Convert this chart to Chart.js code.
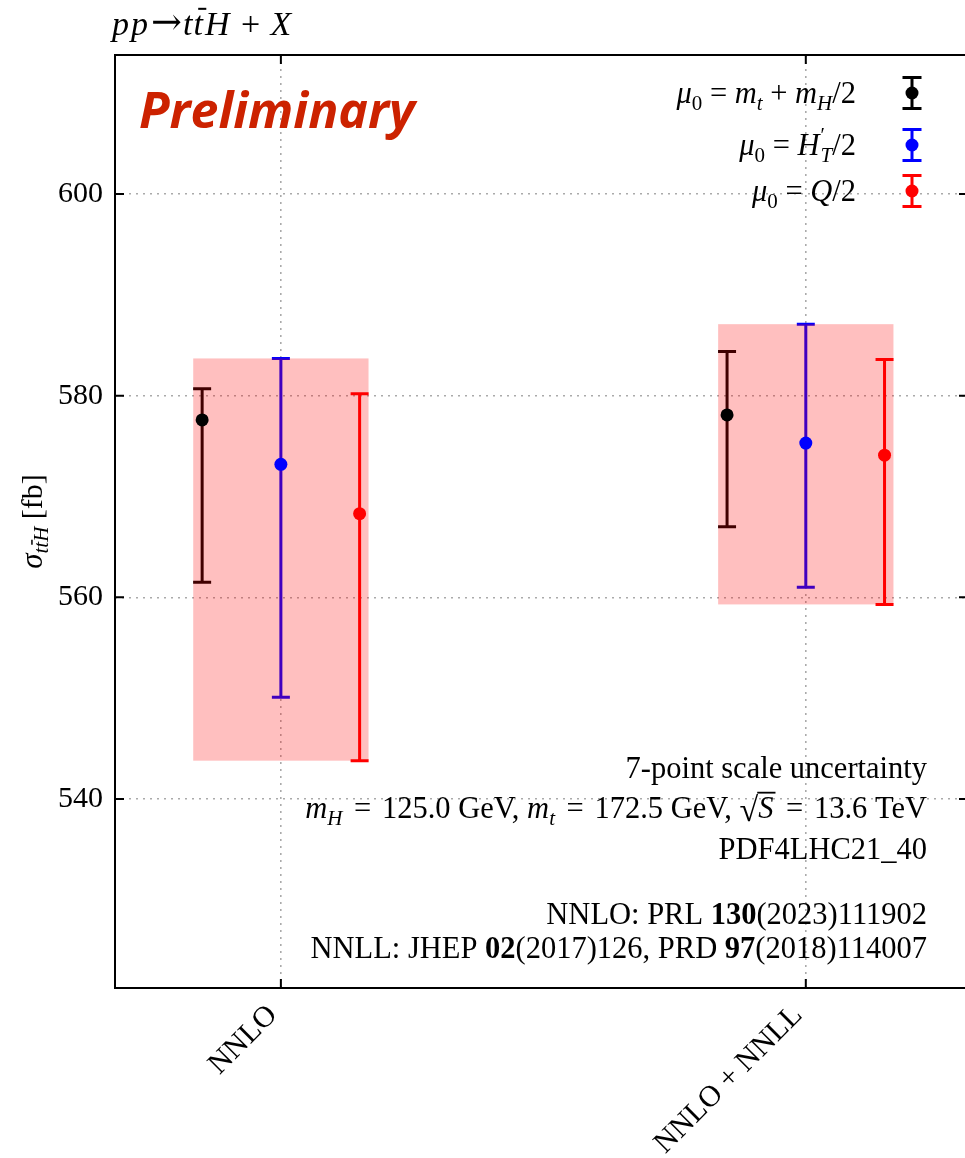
<!DOCTYPE html>
<html>
<head>
<meta charset="utf-8">
<script src="https://cdn.jsdelivr.net/npm/chart.js@4/dist/chart.umd.min.js"></script>
<style>
html, body { margin: 0; background: #fff; overflow: hidden; }
canvas { display: block; }
</style>
</head>
<body>
<canvas id="xsecChart" width="968" height="1158"></canvas>
<script>
// values (fb)
const categories = ['NNLO', 'NNLO + NNLL'];

const centralMtMh = [577.6, 578.1];
const lowMtMh = [561.5, 567.0];
const highMtMh = [580.7, 584.4];

const centralHt = [573.2, 575.3];
const lowHt = [550.1, 561.0];
const highHt = [583.7, 587.1];

const centralQ = [568.3, 574.1];
const lowQ = [543.8, 559.3];
const highQ = [580.2, 583.6];

const yTicks = [540, 560, 580, 600];

const SERIF = '"Liberation Serif", "Times New Roman", serif';
const FS = 30.5;
function font(style, size, fam) {
    return style + ' ' + size + 'px ' + (fam || SERIF);
}

// draws a line of mixed text pieces (italic / sub / bold)
function drawRuns(ctx, runs, x, y, align) {
    let total = 0;
    runs.forEach(r => {
        ctx.font = font(r.s || 'normal', r.z || FS, r.f);
        r.w = ctx.measureText(r.t).width;
        r.adv = r.noAdv ? 0 : r.w + (r.gap || 0);
        total += r.adv + (r.pre || 0);
    });
    let cx = x;
    if (align === 'right') cx = x - total;
    if (align === 'center') cx = x - total / 2;
    runs.forEach(r => {
        const z = r.z || FS;
        cx += r.pre || 0;
        ctx.font = font(r.s || 'normal', z, r.f);
        ctx.fillText(r.t, cx, y + (r.dy || 0));
        if (r.bar) {
            ctx.fillRect(cx + z * 0.14, y + (r.dy || 0) - z * 0.8, r.w - z * 0.04, Math.max(1.5, z * 0.06));
        }
        if (r.over) {
            ctx.fillRect(cx - 1, y + (r.dy || 0) - z * 0.86, r.w + 3, 1.8);
        }
        cx += r.adv;
    });
}

function makeSet(label, color, offset, central, low, high) {
    return {
        label: label,
        data: central.map((v, i) => ({ x: i + offset, y: v })),
        errLow: low,
        errHigh: high,
        backgroundColor: color,
        borderColor: color,
        pointRadius: 6.5,
        pointHoverRadius: 6.5,
        pointBorderWidth: 0,
        showLine: false
    };
}

const errorBars = {
    id: 'errorBars',
    beforeDatasetsDraw(chart) {
        const { ctx, scales: { x, y } } = chart;
        ctx.save();
        ctx.lineWidth = 3;
        chart.data.datasets.forEach(ds => {
            ctx.strokeStyle = ds.borderColor;
            ds.data.forEach((p, i) => {
                const px = x.getPixelForValue(p.x);
                const yl = y.getPixelForValue(ds.errLow[i]);
                const yh = y.getPixelForValue(ds.errHigh[i]);
                ctx.beginPath();
                ctx.moveTo(px, yl); ctx.lineTo(px, yh);
                ctx.moveTo(px - 9, yl); ctx.lineTo(px + 9, yl);
                ctx.moveTo(px - 9, yh); ctx.lineTo(px + 9, yh);
                ctx.stroke();
            });
        });
        // envelope of the three scale choices
        ctx.fillStyle = 'rgba(255, 0, 0, 0.25)';
        categories.forEach((c, i) => {
            const lo = Math.min(...chart.data.datasets.map(ds => ds.errLow[i]));
            const hi = Math.max(...chart.data.datasets.map(ds => ds.errHigh[i]));
            const x0 = x.getPixelForValue(i - 0.167);
            const x1 = x.getPixelForValue(i + 0.167);
            const y0 = y.getPixelForValue(hi);
            const y1 = y.getPixelForValue(lo);
            ctx.fillRect(x0, y0, x1 - x0, y1 - y0);
        });
        ctx.restore();
    }
};

const frameAndText = {
    id: 'frameAndText',
    afterDraw(chart) {
        const { ctx, chartArea: a, scales: { x, y } } = chart;
        ctx.save();
        // frame + inward ticks
        ctx.strokeStyle = '#000';
        ctx.lineWidth = 2;
        ctx.strokeRect(a.left, a.top, a.right - a.left, a.bottom - a.top);
        ctx.beginPath();
        yTicks.forEach(v => {
            const py = y.getPixelForValue(v);
            ctx.moveTo(a.left, py); ctx.lineTo(a.left + 9, py);
            ctx.moveTo(a.right, py); ctx.lineTo(a.right - 9, py);
        });
        categories.forEach((c, i) => {
            const px = x.getPixelForValue(i);
            ctx.moveTo(px, a.top); ctx.lineTo(px, a.top + 9);
            ctx.moveTo(px, a.bottom); ctx.lineTo(px, a.bottom - 9);
        });
        ctx.stroke();

        ctx.fillStyle = '#000';
        ctx.textBaseline = 'alphabetic';
        ctx.textAlign = 'left';

        // title
        drawRuns(ctx, [
            { t: 'p', s: 'italic', z: 34, gap: 2 },
            { t: 'p', s: 'italic', z: 34, gap: 3 },
            { t: '\u2192', z: 37, f: '"DejaVu Serif", serif', dy: -1, gap: 1 },
            { t: 't', s: 'italic', z: 34, gap: 1 },
            { t: 't', s: 'italic', z: 34, bar: true, gap: 2 },
            { t: 'H', s: 'italic', z: 34, gap: 3 },
            { t: ' + ', z: 34, gap: 2 },
            { t: 'X', s: 'italic', z: 34 }
        ], 112, 35, 'left');

        // Preliminary
        ctx.fillStyle = '#cc2200';
        ctx.font = 'italic bold 50px "Open Sans", "DejaVu Sans", sans-serif';
        ctx.fillText('Preliminary', 139, 128);
        ctx.fillStyle = '#000';

        // y axis label
        ctx.save();
        ctx.translate(42, (a.top + a.bottom) / 2);
        ctx.rotate(-Math.PI / 2);
        drawRuns(ctx, [
            { t: '\u03c3', s: 'italic', z: 31 },
            { t: 't', s: 'italic', z: 21, dy: 6 },
            { t: 't', s: 'italic', z: 21, dy: 6, bar: true },
            { t: 'H', s: 'italic', z: 21, dy: 6 },
            { t: ' [fb]', z: 30 }
        ], 0, 0, 'center');
        ctx.restore();

        // legend, one row per dataset
        const legendText = [
            [{ t: '\u03bc', s: 'italic' }, { t: '0', z: 21, dy: 7 }, { t: ' = ' }, { t: 'm', s: 'italic' },
             { t: 't', s: 'italic', z: 21, dy: 7 }, { t: ' + ' }, { t: 'm', s: 'italic' },
             { t: 'H', s: 'italic', z: 21, dy: 7 }, { t: '/2' }],
            [{ t: '\u03bc', s: 'italic' }, { t: '0', z: 21, dy: 7 }, { t: ' = ' }, { t: 'H', s: 'italic', gap: -2 },
             { t: '\u2032', z: 20, dy: -13, noAdv: true, pre: 3 }, { t: 'T', s: 'italic', z: 21, dy: 7 }, { t: '/2' }],
            [{ t: '\u03bc', s: 'italic' }, { t: '0', z: 21, dy: 7 }, { t: ' = ' }, { t: 'Q', s: 'italic' }, { t: '/2' }]
        ];
        const rowY = [93, 145, 191];
        chart.data.datasets.forEach((ds, k) => {
            drawRuns(ctx, legendText[k], 856, rowY[k] + 10, 'right');
            ctx.strokeStyle = ds.borderColor;
            ctx.fillStyle = ds.borderColor;
            ctx.lineWidth = 3;
            const mx = 912, my = rowY[k];
            ctx.beginPath();
            ctx.moveTo(mx, my - 15.5); ctx.lineTo(mx, my + 15.5);
            ctx.moveTo(mx - 9.5, my - 15.5); ctx.lineTo(mx + 9.5, my - 15.5);
            ctx.moveTo(mx - 9.5, my + 15.5); ctx.lineTo(mx + 9.5, my + 15.5);
            ctx.stroke();
            ctx.beginPath();
            ctx.arc(mx, my, 6.5, 0, Math.PI * 2);
            ctx.fill();
            ctx.fillStyle = '#000';
        });

        // annotations
        const rx = 927;
        drawRuns(ctx, [{ t: '7-point scale uncertainty' }], rx, 778, 'right');
        drawRuns(ctx, [
            { t: 'm', s: 'italic' }, { t: 'H', s: 'italic', z: 21, dy: 7, gap: 4 }, { t: ' = ', gap: 3 }, { t: '125.0 GeV, ' },
            { t: 'm', s: 'italic' }, { t: 't', s: 'italic', z: 21, dy: 7, gap: 4 }, { t: ' = ', gap: 3 }, { t: '172.5 GeV, ' },
            { t: '\u221a', z: 34, dy: 3 }, { t: 'S', s: 'italic', over: true, gap: 5 }, { t: ' = ', gap: 3 }, { t: '13.6 TeV' }
        ], rx, 818, 'right');
        drawRuns(ctx, [{ t: 'PDF4LHC21_40' }], rx, 859, 'right');
        drawRuns(ctx, [
            { t: 'NNLO: PRL ' }, { t: '130', s: 'bold' }, { t: '(2023)111902' }
        ], rx, 924, 'right');
        drawRuns(ctx, [
            { t: 'NNLL: JHEP ' }, { t: '02', s: 'bold' }, { t: '(2017)126, PRD ' },
            { t: '97', s: 'bold' }, { t: '(2018)114007' }
        ], rx, 958, 'right');
        ctx.restore();
    }
};

const ctxEl = document.getElementById('xsecChart');

new Chart(ctxEl, {
    type: 'scatter',
    data: {
        datasets: [
            makeSet('mt+mH/2', '#000000', -0.15, centralMtMh, lowMtMh, highMtMh),
            makeSet("H'T/2", '#0000ff', 0, centralHt, lowHt, highHt),
            makeSet('Q/2', '#ff0000', 0.15, centralQ, lowQ, highQ)
        ]
    },
    options: {
        responsive: false,
        animation: false,
        devicePixelRatio: 1,
        layout: {
            autoPadding: false,
            padding: { left: 0, top: 55, right: 0, bottom: 0 }
        },
        plugins: {
            legend: { display: false },
            tooltip: { enabled: false }
        },
        scales: {
            x: {
                type: 'linear',
                min: -0.316,
                max: 1.309,
                afterBuildTicks: (scale) => {
                    scale.ticks = categories.map((c, i) => ({ value: i }));
                },
                afterFit: (scale) => {
                    scale.height = 170;
                    scale.paddingLeft = 0;
                    scale.paddingRight = 0;
                },
                ticks: {
                    callback: (v) => categories[v] ?? '',
                    color: '#000',
                    font: { family: SERIF, size: 30 },
                    minRotation: 45,
                    maxRotation: 45,
                    padding: 10,
                    labelOffset: -8
                },
                grid: {
                    color: '#aaaaaa',
                    lineWidth: 1.6,
                    drawTicks: false
                },
                border: {
                    display: false,
                    dash: [2, 5]
                }
            },
            y: {
                min: 521.25,
                max: 613.8,
                afterBuildTicks: (scale) => {
                    scale.ticks = yTicks.map(v => ({ value: v }));
                },
                afterFit: (scale) => {
                    scale.width = 115;
                    scale.paddingTop = 0;
                    scale.paddingBottom = 0;
                },
                ticks: {
                    color: '#000',
                    font: { family: SERIF, size: 30 },
                    padding: 12
                },
                grid: {
                    color: '#aaaaaa',
                    lineWidth: 1.6,
                    drawTicks: false
                },
                border: {
                    display: false,
                    dash: [2, 5]
                }
            }
        }
    },
    plugins: [errorBars, frameAndText]
});
</script>
</body>
</html>
